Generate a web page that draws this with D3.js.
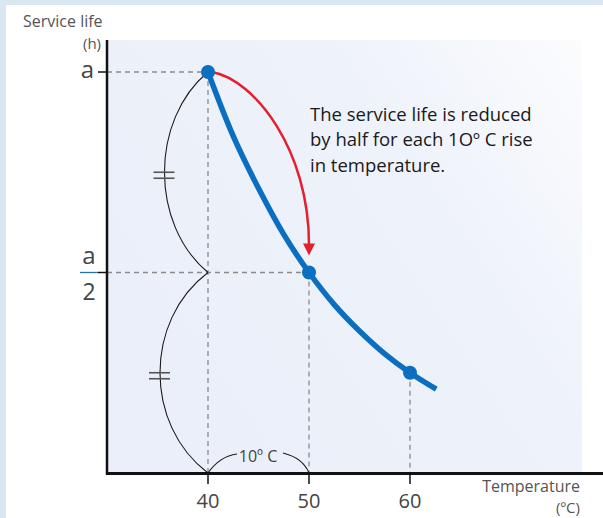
<!DOCTYPE html>
<html><head><meta charset="utf-8">
<script src="https://d3js.org/d3.v7.min.js"></script>
<style>
html,body{margin:0;padding:0;background:#d9e7f1;}
svg{display:block;}
</style></head>
<body>
<svg id="c" width="603" height="518"></svg>
<script>
// ---- data ----
const temps = [40, 50, 60];            // marked temperatures (°C)
const life = [1, 0.5, 0.25];           // service life in units of "a"
const curveT = [40, 42.5, 45, 47.5, 50, 52.5, 55, 57.5, 60, 62.6];
const curveL = [1, 0.84, 0.71, 0.595, 0.5, 0.42, 0.354, 0.297, 0.25, 0.209];
const xTicks = [40, 50, 60];
const yTickVals = [1, 0.5];
const annotation = ["The service life is reduced", "by half for each 1O\u00ba C rise", "in temperature."];

const svg = d3.select("#c");
const font = "'Open Sans', 'Noto Sans', sans-serif";

// white panel
svg.append("rect").attr("x", 6).attr("y", 5).attr("width", 597).attr("height", 513).attr("fill", "#ffffff");

const x = d3.scaleLinear().domain([30, 80]).range([107, 612]);
const y = d3.scaleLinear().domain([0, 1]).range([473, 72]);

// plot background gradient
const defs = svg.append("defs");
const g = defs.append("linearGradient").attr("id", "bg").attr("x1", "100%").attr("y1", "0%").attr("x2", "0%").attr("y2", "60%");
g.append("stop").attr("offset", "0%").attr("stop-color", "#fbfcfe");
g.append("stop").attr("offset", "40%").attr("stop-color", "#eef2fa");
g.append("stop").attr("offset", "100%").attr("stop-color", "#ebeff9");
svg.append("rect").attr("x", 107).attr("y", 40).attr("width", 475).attr("height", 433).attr("fill", "url(#bg)");

// dashed guide lines
const dash = svg.append("g").attr("stroke", "#8a8a8a").attr("stroke-width", 1.3).attr("stroke-dasharray", "5,4").attr("fill", "none");
temps.forEach((t, i) => {
  dash.append("line").attr("x1", x(t)).attr("x2", x(t)).attr("y1", y(life[i])).attr("y2", y(0));
});
yTickVals.forEach((v, i) => {
  dash.append("line").attr("x1", x(30)).attr("x2", x(temps[i])).attr("y1", y(v)).attr("y2", y(v));
});

// braces (left, between levels)
const br = svg.append("g").attr("stroke", "#1a1a1a").attr("stroke-width", 1.1).attr("fill", "none");
const levels = [1, 0.5, 0];
for (let i = 0; i < 2; i++) {
  const x0 = x(40), ya = y(levels[i]), yb = y(levels[i + 1]);
  const h = yb - ya;
  const bulge = i === 0 ? 58 : 64;
  br.append("path").attr("d", `M${x0},${ya} C${x0 - bulge},${ya + h * 0.24} ${x0 - bulge},${ya + h * 0.76} ${x0},${yb}`);
  const my = ya + h * 0.5 + 3, mx = x0 - bulge * 0.75 - 1;
  br.append("line").attr("x1", mx - 10).attr("x2", mx + 11).attr("y1", my - 3).attr("y2", my - 3).attr("stroke", "#555").attr("stroke-width", 1.6);
  br.append("line").attr("x1", mx - 10).attr("x2", mx + 11).attr("y1", my + 3).attr("y2", my + 3).attr("stroke", "#555").attr("stroke-width", 1.6);
}
// bottom brace for 10 °C
const bx0 = x(40), bx1 = x(50), by = y(0);
br.append("path").attr("d", `M${bx0},${by} Q${bx0 + 12},${by - 17} ${bx0 + 29},${by - 19}`);
br.append("path").attr("d", `M${bx1 - 26},${by - 20} Q${bx1 - 6},${by - 15} ${bx1},${by}`);
svg.append("text").attr("x", (bx0 + bx1) / 2 - 0.5).attr("y", by - 11).attr("text-anchor", "middle")
  .attr("font-family", font).attr("font-size", 16).attr("fill", "#444").text("10\u00ba C");

// axes
const ax = svg.append("g").attr("stroke", "#111").attr("fill", "none");
ax.append("line").attr("x1", 107).attr("x2", 107).attr("y1", 40).attr("y2", 474.5).attr("stroke-width", 2.5);
ax.append("line").attr("x1", 106).attr("x2", 603).attr("y1", 473.5).attr("y2", 473.5).attr("stroke-width", 3);
xTicks.forEach(t => {
  ax.append("line").attr("x1", x(t)).attr("x2", x(t)).attr("y1", 473).attr("y2", 484).attr("stroke-width", 1.5);
  svg.append("text").attr("x", x(t)).attr("y", 508).attr("text-anchor", "middle")
    .attr("font-family", font).attr("font-size", 20).attr("fill", "#444").text(t);
});
yTickVals.forEach(v => {
  ax.append("line").attr("x1", 98).attr("x2", 107).attr("y1", y(v)).attr("y2", y(v)).attr("stroke-width", 1.5);
});

// y labels
svg.append("text").attr("x", 94).attr("y", y(1) + 6).attr("text-anchor", "end").attr("font-family", font)
  .attr("font-size", 24).attr("fill", "#444").text("a");
svg.append("text").attr("x", 89).attr("y", y(0.5) - 9).attr("text-anchor", "middle").attr("font-family", font)
  .attr("font-size", 24).attr("fill", "#444").text("a");
svg.append("line").attr("x1", 80).attr("x2", 98).attr("y1", y(0.5)).attr("y2", y(0.5)).attr("stroke", "#2a6fae").attr("stroke-width", 1.3);
svg.append("text").attr("x", 89).attr("y", y(0.5) + 27).attr("text-anchor", "middle").attr("font-family", font)
  .attr("font-size", 23).attr("fill", "#444").text("2");

svg.append("text").attr("x", 23).attr("y", 27).attr("font-family", font).attr("font-size", 16).attr("fill", "#555").text("Service life");
svg.append("text").attr("x", 101).attr("y", 49).attr("text-anchor", "end").attr("font-family", font).attr("font-size", 15).attr("fill", "#555").text("(h)");
svg.append("text").attr("x", 580).attr("y", 492).attr("text-anchor", "end").attr("font-family", font).attr("font-size", 16).attr("fill", "#555").text("Temperature");
svg.append("text").attr("x", 580).attr("y", 513).attr("text-anchor", "end").attr("font-family", font).attr("font-size", 15).attr("fill", "#555").text("(\u00baC)");

// curve
const line = d3.line().x((d, i) => x(curveT[i])).y((d, i) => y(curveL[i])).curve(d3.curveCatmullRom);
svg.append("path").datum(curveT).attr("d", line).attr("fill", "none").attr("stroke", "#0a6fc0").attr("stroke-width", 5.5);

// red arrow
const sx = x(40) + 4, sy = y(1), ex = x(50), ey = y(0.5) - 18;
svg.append("path").attr("d", `M${sx},${sy} C${sx + 43},${sy + 8} ${ex},${sy + 78} ${ex},${ey - 10}`)
  .attr("fill", "none").attr("stroke", "#e3202f").attr("stroke-width", 2.5);
svg.append("path").attr("d", `M${ex - 6},${ey - 11} L${ex + 6},${ey - 11} L${ex},${ey + 1} Z`).attr("fill", "#e3202f");

// points
svg.selectAll("circle.pt").data(temps).enter().append("circle").attr("class", "pt")
  .attr("cx", d => x(d)).attr("cy", (d, i) => y(life[i])).attr("r", 7).attr("fill", "#0a6fc0");

// annotation
const ann = svg.append("text").attr("font-family", font).attr("font-size", 18.5).attr("fill", "#1a1a1a");
annotation.forEach((s, i) => {
  ann.append("tspan").attr("x", 310).attr("y", 120.5 + i * 25.5).text(s);
});
</script>
</body></html>
